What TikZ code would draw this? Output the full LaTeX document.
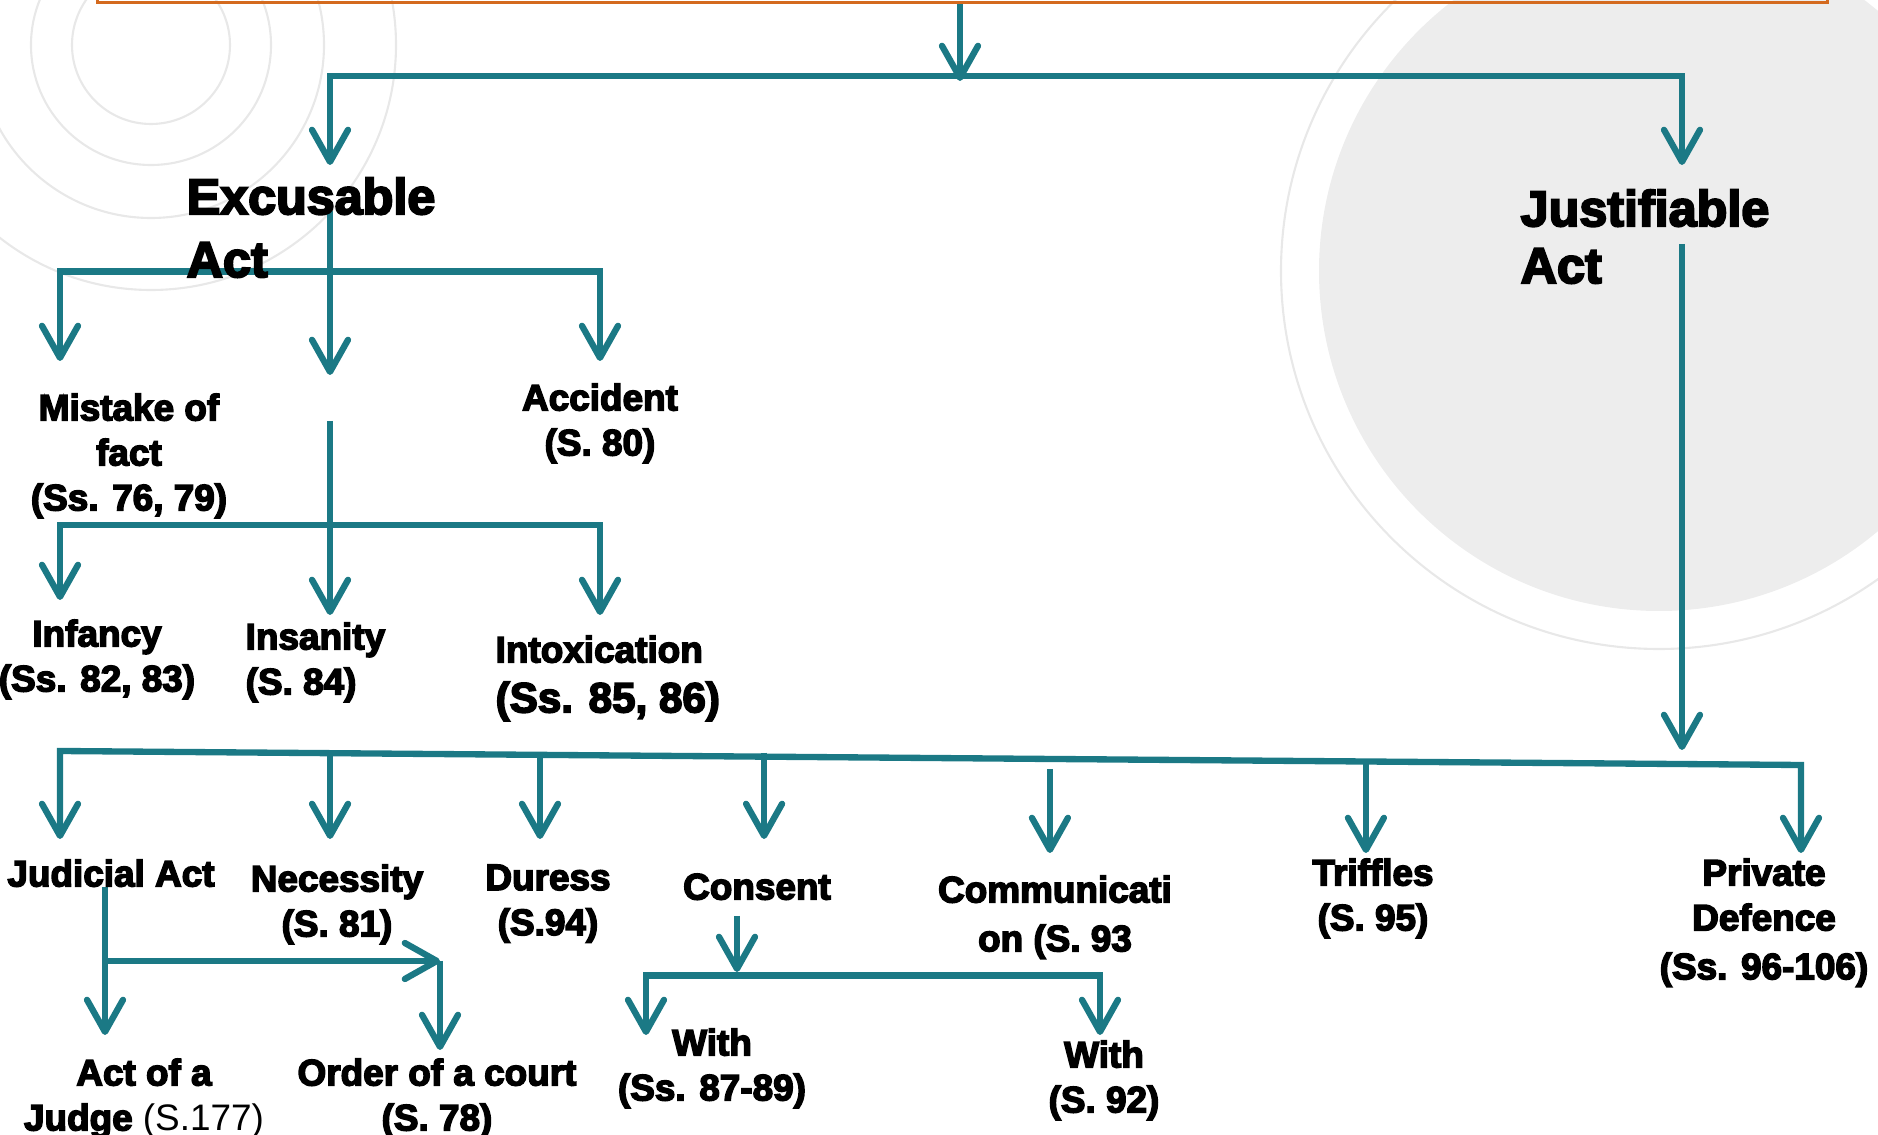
\documentclass[tikz,border=0pt]{standalone}
\usepackage{fontspec}
\setmainfont{Liberation Sans}[BoldFeatures={FakeBold=4}]
\usepackage{xcolor}
\usetikzlibrary{arrows.meta,positioning,calc}
\definecolor{pfeilfarbe}{HTML}{1B7985}
\definecolor{rahmenfarbe}{HTML}{D46A1E}
\definecolor{kreisfarbe}{HTML}{EDEDED}
\definecolor{ringfarbe}{HTML}{E8E8E8}
\pgfdeclarelayer{kreise}
\pgfdeclarelayer{linien}
\pgfsetlayers{kreise,linien,main}
\tikzset{
  linie/.style={draw=pfeilfarbe, line width=1.8pt},
  pfeil/.style={linie, ->},
  begriff/.style={inner sep=0pt, align=center, anchor=north, font=\fontsize{10.5}{12.8}\selectfont\bfseries},
  gross/.style={inner sep=0pt, align=left, anchor=north west, font=\fontsize{14.3}{17}\selectfont\bfseries},
  ring/.style={draw=ringfarbe, line width=0.6pt}
}

\begin{document}
\begin{tikzpicture}[x=1cm, y=1cm, >={Straight Barb[length=3.2mm,width=3.6mm,round]}]

\useasboundingbox (0,0) rectangle (18.78,-11.35);

% Kopfkasten
\node[draw=rahmenfarbe, line width=0.9pt, minimum width=17.30cm, minimum height=1cm, anchor=south west, inner sep=0pt] (kopf) at (0.96,-0.04) {};

% Oberbegriffe
\node[gross] (exc) at (1.86,-1.77) {Excusable\\[0.9pt]Act};
\node[gross] (just) at (15.20,-1.89) {Justifiable\\[-0.8pt]Act};

% Excusable Act
\node[begriff] (mist) at (1.29,-3.93) {Mistake of\\fact\\(Ss. 76, 79)};
\node[begriff] (acc) at (6.00,-3.83) {Accident\\(S. 80)};
\node[begriff] (inf) at (0.97,-6.19) {Infancy\\(Ss. 82, 83)};
\node[begriff, align=left, anchor=north west] (ins) at (2.45,-6.22) {Insanity\\(S. 84)};
\node[begriff, align=left, anchor=north west] (intox) at (4.95,-6.35) {Intoxication\\[1.4pt]{\fontsize{12}{14}\selectfont (Ss. 85, 86)}};

% Justifiable Act
\node[begriff] (jud) at (1.11,-8.59) {Judicial Act};
\node[begriff] (nec) at (3.37,-8.64) {Necessity\\(S. 81)};
\node[begriff] (dur) at (5.48,-8.64) {Duress\\(S.94)};
\node[begriff] (cons) at (7.57,-8.73) {Consent};
\node[begriff] (comm) at (10.55,-8.75) {Communicati\\[1.1pt]on (S. 93};
\node[begriff] (trif) at (13.73,-8.58) {Triffles\\(S. 95)};
\node[begriff] (priv) at (17.64,-8.58) {Private\\Defence\\[1.1pt](Ss. 96-106)};

% Unterpunkte
\node[begriff] (judge) at (1.44,-10.58) {Act of a\\Judge {\mdseries (S.177)}};
\node[begriff] (court) at (4.37,-10.58) {Order of a court\\(S. 78)};
\node[begriff] (with1) at (7.12,-10.28) {With\\(Ss. 87-89)};
\node[begriff] (with2) at (11.04,-10.40) {With\\(S. 92)};

% Hintergrundkreise
\begin{pgfonlayer}{kreise}
\foreach \r in {0.79,1.20,1.73,2.45}
  \draw[ring] (1.51,-0.45) circle (\r);
\fill[kreisfarbe] (16.59,-2.71) circle (3.40);
\draw[ring] (16.59,-2.71) circle (3.78);
\end{pgfonlayer}

% Verbindungen
\begin{pgfonlayer}{linien}
\coordinate (t1) at (9.60,-0.81);
\coordinate (b1l) at (3.30,-0.76);
\coordinate (b1r) at (16.82,-0.76);
\draw[pfeil] (kopf.south -| t1) -- (t1);
\draw[pfeil, <->, shorten <=1.2mm, shorten >=2.4mm] (b1l |- exc.north) -- (b1l) -- (b1r) -- (b1r |- just.north);

% linker Ast
\coordinate (e1) at (3.30,-2.11);
\coordinate (m1) at (3.30,-3.75);
\coordinate (m2) at (3.30,-4.21);
\coordinate (b2l) at (0.60,-2.715);
\coordinate (b2r) at (6.00,-2.715);
\coordinate (b3l) at (0.60,-5.25);
\coordinate (b3m) at (3.30,-5.25);
\coordinate (b3r) at (6.00,-5.25);
\draw[pfeil] (e1) -- (m1);
\draw[pfeil, <->, shorten <=3.2mm, shorten >=2.2mm] (b2l |- mist.north) -- (b2l) -- (b2r) -- (b2r |- acc.north);
\draw[linie] (m2) -- (b3m);
\draw[pfeil, <->, shorten <=1.9mm, shorten >=2.0mm] (b3l |- inf.north) -- (b3l) -- (b3r) -- (b3r |- intox.north);
\draw[pfeil, shorten >=0.7mm] (b3m) -- (b3m |- ins.north);

% rechter Ast
\coordinate (j1) at (16.82,-2.44);
\coordinate (j2) at (16.82,-7.50);
\draw[pfeil] (j1) -- (j2);
\coordinate (b4l) at (0.60,-7.51);
\coordinate (b4r) at (18.01,-7.65);
\draw[pfeil, <->, shorten <=2.0mm, shorten >=0.5mm] (b4l |- jud.north) -- (b4l) -- (b4r) -- (b4r |- priv.north);
\foreach \t/\nach/\abst in {0.1551/nec/2.5mm, 0.2757/dur/2.5mm, 0.7501/trif/0.5mm} {
  \coordinate (d\nach) at ($(b4l)!\t!(b4r)$);
  \draw[pfeil, shorten >=\abst] (d\nach) -- (d\nach |- \nach.north);
}
\coordinate (dcons) at ($(b4l)!0.4044!(b4r)$);
\draw[pfeil, shorten >=3.4mm] ([yshift=0.4mm]dcons) -- (dcons |- cons.north);
\coordinate (dcomm) at ($(b4l)!0.5686!(b4r)$);
\draw[pfeil, shorten >=2.2mm] ([yshift=-1mm]dcomm) -- (dcomm |- comm.north);

% Judicial Act
\coordinate (ju1) at (1.05,-8.87);
\coordinate (ju2) at (1.05,-9.61);
\coordinate (ju3) at (4.40,-9.61);
\draw[pfeil, shorten >=2.3mm] (ju1) -- (ju1 |- judge.north);
\draw[pfeil] (ju2) -- (ju3);
\draw[pfeil, shorten >=0.8mm] (ju3) -- (ju3 |- court.north);

% Consent
\coordinate (k1) at (7.37,-9.16);
\coordinate (k2) at (7.37,-9.72);
\coordinate (k3) at (6.46,-9.755);
\coordinate (k4) at (11.00,-9.755);
\draw[pfeil] (k1) -- (k2);
\draw[pfeil, <->, shorten <=-0.7mm, shorten >=0.5mm] (k3 |- with1.north) -- (k3) -- (k4) -- (k4 |- with2.north);
\end{pgfonlayer}

\end{tikzpicture}
\end{document}
